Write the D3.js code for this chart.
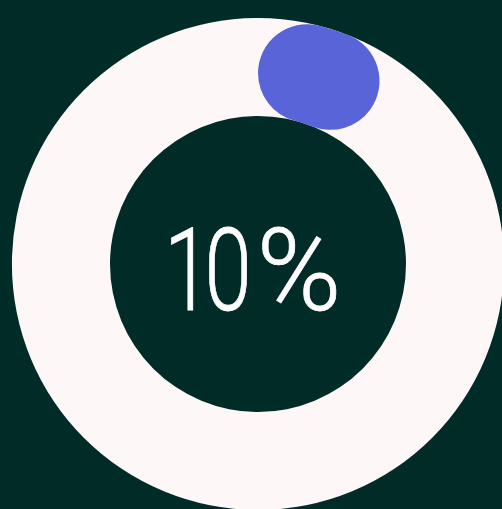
<!DOCTYPE html>
<html>
<head>
<meta charset="utf-8">
<script src="https://cdn.jsdelivr.net/npm/d3@7"></script>
<style>
  html, body { margin: 0; padding: 0; background: #012b26; overflow: hidden; }
</style>
</head>
<body>
<div id="chart"></div>
<script>
// data
var progress = [10];        // percent done
var total = [100];
var labels = ["10", "%"];

var width = 502, height = 509;
var cx = 258, cy = 264;
var outerR = 246, innerR = 148;

var svg = d3.select("#chart")
  .append("svg")
    .attr("width", width)
    .attr("height", height)
  .append("g")
    .attr("transform", "translate(" + cx + "," + cy + ")");

// angle scale
var angle = d3.scaleLinear()
  .domain([0, total[0]])
  .range([0, 2 * Math.PI]);

// background ring
var ring = d3.arc()
  .innerRadius(innerR)
  .outerRadius(outerR)
  .startAngle(0)
  .endAngle(2 * Math.PI);

svg.append("path")
  .attr("d", ring())
  .attr("fill", "#fdf7f7");

// progress arc
var arc = d3.arc()
  .innerRadius(innerR)
  .outerRadius(outerR)
  .cornerRadius((outerR - innerR) / 2);

svg.selectAll(".progress")
  .data(progress)
  .enter()
  .append("path")
    .attr("class", "progress")
    .attr("fill", "#5864d8")
    .attr("d", function(d) { return arc({ startAngle: 0, endAngle: angle(d) }); });

// label: narrow digits, wider percent sign
function labelText(sel) {
  sel.attr("fill", "#ffffff")
    .attr("stroke", "#ffffff")
    .attr("stroke-width", 0.8)
    .attr("font-family", "Roboto")
    .attr("font-weight", 300)
    .attr("font-size", "115px");
}

var digitScale = 0.74;

svg.append("text")
  .attr("transform", "translate(0,46) scale(" + digitScale + ",1)")
  .attr("x", -127)
  .attr("letter-spacing", -9.2)
  .call(labelText)
  .text(labels[0]);

svg.append("text")
  .attr("transform", "translate(41,46)")
  .attr("text-anchor", "middle")
  .call(labelText)
  .text(labels[1]);
</script>
</body>
</html>
